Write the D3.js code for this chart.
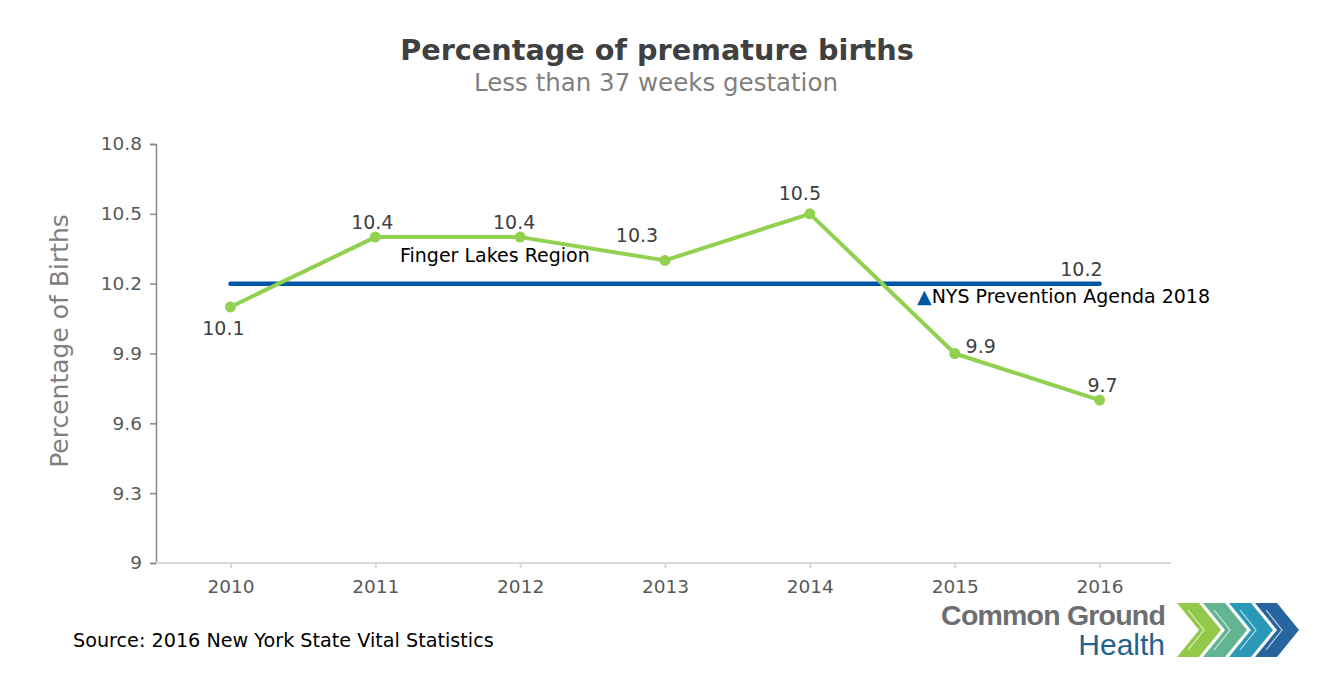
<!DOCTYPE html>
<html><head><meta charset="utf-8">
<script src="https://cdn.jsdelivr.net/npm/d3@7/dist/d3.min.js"></script>
<style>
body{margin:0;background:#fff;}
svg{display:block;font-family:"DejaVu Sans",Verdana,sans-serif;}
</style></head>
<body><svg id="c" width="1335" height="691"></svg>
<script>
const years = ["2010","2011","2012","2013","2014","2015","2016"];
const regionValues = [10.1,10.4,10.4,10.3,10.5,9.9,9.7];
const targetValue = 10.2;
const yTicks = [9,9.3,9.6,9.9,10.2,10.5,10.8];
const regionName = "Finger Lakes Region";
const targetName = "NYS Prevention Agenda 2018";

const FONT = "DejaVu Sans, Verdana, sans-serif";
const svg = d3.select("#c");
const x = d3.scalePoint().domain(years).range([158,1172]).padding(0.5);
const y = d3.scaleLinear().domain([9,10.8]).range([563,144]);

// title
svg.append("text").attr("x",657).attr("y",60).attr("text-anchor","middle")
  .attr("font-size",28.7).attr("font-weight","bold").attr("fill","#404040").text("Percentage of premature births");
svg.append("text").attr("x",656).attr("y",91).attr("text-anchor","middle")
  .attr("font-size",24.5).attr("fill","#7f7f7f").text("Less than 37 weeks gestation");

// y axis
const ya = svg.append("g").attr("transform","translate(156,0)")
  .call(d3.axisLeft(y).tickValues(yTicks).tickSize(6).tickPadding(8).tickFormat(d=>String(d)));
ya.select(".domain").attr("stroke","#898989").attr("stroke-width",1.5);
ya.selectAll(".tick line").attr("stroke","#898989").attr("stroke-width",1.5);
ya.selectAll(".tick text").attr("font-size",18.5).attr("fill","#595959").attr("font-family",FONT);

// x axis
const xa = svg.append("g").attr("transform","translate(0,563)")
  .call(d3.axisBottom(x).tickSize(5).tickSizeOuter(0).tickPadding(12));
xa.select(".domain").attr("stroke","#d9d9d9").attr("stroke-width",2).attr("d","M156,0H1171");
xa.selectAll(".tick line").attr("stroke","#d9d9d9").attr("stroke-width",2);
xa.selectAll(".tick text").attr("font-size",18.5).attr("fill","#595959").attr("font-family",FONT);

// y axis title
svg.append("text").attr("transform","translate(68,341) rotate(-90)").attr("text-anchor","middle")
  .attr("font-size",25).attr("fill","#7f7f7f").text("Percentage of Births");

// target line
svg.append("line").attr("x1",x(years[0])).attr("x2",x(years[years.length-1]))
  .attr("y1",y(targetValue)).attr("y2",y(targetValue))
  .attr("stroke","#0057a6").attr("stroke-width",4.5).attr("stroke-linecap","round");

// region line
svg.append("path").datum(regionValues)
  .attr("d",d3.line().x((d,i)=>x(years[i])).y(d=>y(d)))
  .attr("fill","none").attr("stroke","#92d050").attr("stroke-width",4).attr("stroke-linejoin","round");
svg.selectAll("circle.pt").data(regionValues).join("circle").attr("class","pt")
  .attr("cx",(d,i)=>x(years[i])).attr("cy",d=>y(d)).attr("r",5.5).attr("fill","#92d050");

// data labels
const lblOff = [[-7,28],[-3,-8],[-6,-8],[-28,-18],[-10,-14],[26,-1],[3,-8]];
svg.selectAll("text.dl").data(regionValues).join("text").attr("class","dl")
  .attr("x",(d,i)=>x(years[i])+lblOff[i][0]).attr("y",(d,i)=>y(d)+lblOff[i][1])
  .attr("text-anchor","middle").attr("font-size",19).attr("fill","#404040").text(d=>d.toFixed(1));

svg.append("text").attr("x",x(years[years.length-1])+3).attr("y",y(targetValue)-8)
  .attr("text-anchor","end").attr("font-size",19).attr("fill","#404040").text(targetValue.toFixed(1));

// series name labels
svg.append("text").attr("x",400).attr("y",262).attr("font-size",19).attr("fill","#000").text(regionName);
const t2 = svg.append("text").attr("x",917).attr("y",303).attr("font-size",19).attr("fill","#000");
t2.append("tspan").attr("fill","#0057a6").text("▲");
t2.append("tspan").text(targetName);

// source
svg.append("text").attr("x",73).attr("y",647).attr("font-size",19.2).attr("fill","#000")
  .text("Source: 2016 New York State Vital Statistics");

// logo
const logo = svg.append("g");
logo.append("text").attr("x",1165).attr("y",625).attr("text-anchor","end").attr("font-size",28.5)
  .attr("font-weight","bold").attr("fill","#6d6e71").attr("letter-spacing",-0.8).attr("font-family","Liberation Sans, Arial, sans-serif").text("Common Ground");
logo.append("text").attr("x",1165).attr("y",655).attr("text-anchor","end").attr("font-size",30)
  .attr("fill","#1f6391").attr("font-family","Liberation Sans, Arial, sans-serif").text("Health");
const chev = ["#8dc63f","#5ab18a","#1d94b3","#1a5d98"];
chev.forEach((c,i)=>{
  const x0 = 1177 + i*26;
  logo.append("path").attr("d",`M${x0},603 L${x0+22},603 L${x0+44},630 L${x0+22},657 L${x0},657 L${x0+22},630 Z`)
    .attr("fill",c).attr("opacity",0.95);
  logo.append("path").attr("d",`M${x0+11},610 L${x0+27},630 L${x0+11},650`).attr("fill","none")
    .attr("stroke","#fff").attr("stroke-width",1.2).attr("opacity",0.7);
});
</script></body></html>
